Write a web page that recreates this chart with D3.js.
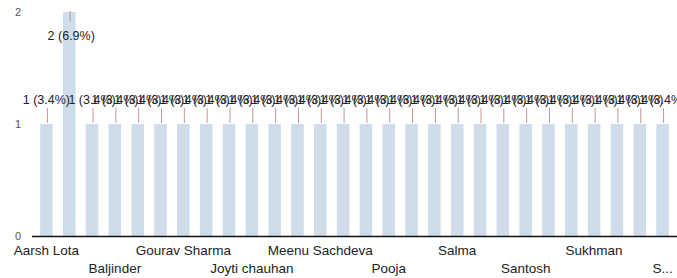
<!DOCTYPE html>
<html>
<head>
<meta charset="utf-8">
<script src="https://cdn.jsdelivr.net/npm/d3@7"></script>
<style>
  body { margin: 0; background: #fff; }
  svg { display: block; font-family: "Liberation Sans", Arial, sans-serif; }
</style>
</head>
<body>
<div id="chart"></div>
<script>
// names along the x axis (alphabetical), only every third is printed
const names = [
  "Aarsh Lota", "Amandeep", "Anita", "Baljinder", "Deepak", "Geeta",
  "Gourav Sharma", "Harpreet", "Jasleen", "Joyti chauhan", "Kiran", "Manpreet",
  "Meenu Sachdeva", "Neha", "Parveen", "Pooja", "Rajesh", "Rekha",
  "Salma", "Sandeep", "Sanjay", "Santosh", "Simran", "Sonia",
  "Sukhman", "Sunita", "Surinder", "Sushma Rani"
];
const counts = [
  1, 2, 1, 1, 1, 1,
  1, 1, 1, 1, 1, 1,
  1, 1, 1, 1, 1, 1,
  1, 1, 1, 1, 1, 1,
  1, 1, 1, 1
];
const yTicks = [0, 1, 2];

const width = 677, height = 278;
const total = d3.sum(counts);
const pct = d3.format(".1%");

const svg = d3.select("#chart").append("svg")
  .attr("width", width)
  .attr("height", height);

const x = d3.scaleBand()
  .domain(d3.range(names.length))
  .range([35, 674])
  .paddingInner(0.45)
  .paddingOuter(0.225);

const y = d3.scaleLinear()
  .domain([0, 2])
  .range([236, 12]);

// y tick labels only, no axis line
svg.append("g")
  .selectAll("text")
  .data(yTicks)
  .join("text")
  .attr("x", 21)
  .attr("y", d => y(d) + 4)
  .attr("text-anchor", "end")
  .attr("font-size", 11)
  .attr("fill", "#555")
  .text(d => d);

// bars
svg.append("g")
  .selectAll("rect")
  .data(counts)
  .join("rect")
  .attr("x", (d, i) => x(i))
  .attr("y", d => y(d))
  .attr("width", x.bandwidth())
  .attr("height", d => y(0) - y(d))
  .attr("fill", "#cfdce9");

// leader lines + value labels
const labelY = d => {
  const ly = y(d) - 20;
  return ly < 30 ? y(d) + 28 : ly;
};

svg.append("g")
  .selectAll("line")
  .data(counts)
  .join("line")
  .attr("x1", (d, i) => x(i) + x.bandwidth() / 2 + 1)
  .attr("x2", (d, i) => x(i) + x.bandwidth() / 2 + 1)
  .attr("y1", d => y(d) - 1)
  .attr("y2", d => (labelY(d) > y(d) ? y(d) + 9 : labelY(d) + 4))
  .attr("stroke", "#b07c78")
  .attr("stroke-width", 0.8);

svg.append("g")
  .selectAll("text")
  .data(counts)
  .join("text")
  .attr("x", (d, i) => x(i) + x.bandwidth() / 2 + (d > 1 ? 2 : 0))
  .attr("y", d => labelY(d))
  .attr("text-anchor", "middle")
  .attr("font-size", 12.5)
  .attr("fill", "#222")
  .text(d => `${d} (${pct(d / total)})`);

// baseline
svg.append("line")
  .attr("x1", 32)
  .attr("x2", width)
  .attr("y1", y(0) + 0.5)
  .attr("y2", y(0) + 0.5)
  .attr("stroke", "#111")
  .attr("stroke-width", 1.6);

// category labels: every third, two staggered rows, clipped at right edge
const xLabels = svg.append("g")
  .selectAll("text")
  .data(names.map((n, i) => ({ n, i })).filter(d => d.i % 3 === 0))
  .join("text")
  .attr("x", d => x(d.i) + x.bandwidth() / 2)
  .attr("y", d => (d.i / 3) % 2 === 0 ? 255 : 273)
  .attr("text-anchor", "middle")
  .attr("font-size", 13.5)
  .attr("fill", "#222")
  .text(d => d.n);

xLabels.each(function(d) {
  const t = d3.select(this);
  const cx = x(d.i) + x.bandwidth() / 2;
  let s = d.n;
  while (s.length > 1 && cx + this.getComputedTextLength() / 2 > width - 4) {
    s = s.slice(0, -1);
    t.text(s + "...");
  }
});
</script>
</body>
</html>
